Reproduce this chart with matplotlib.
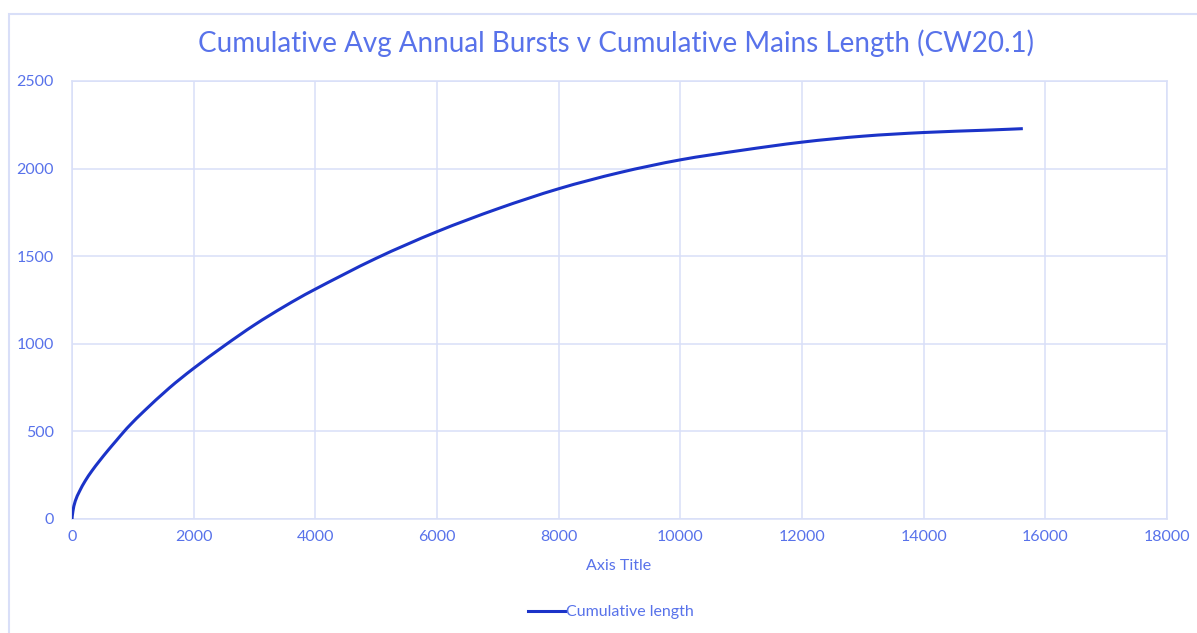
import matplotlib
matplotlib.use("Agg")
import matplotlib.pyplot as plt
from matplotlib.patches import Rectangle, PathPatch
from matplotlib.path import Path
from matplotlib.lines import Line2D

# Data
mains_length = [0, 16, 54, 126, 218, 328, 453, 590, 727, 850, 972, 1191, 1600,
                2000, 2500, 3000, 3500, 4000, 5000, 6000, 7000, 8000, 9000, 10000, 11000,
                12000, 13000, 14000, 15000, 15630]
cum_bursts = [0, 46, 103, 160, 218, 275, 332, 391, 447, 497, 543, 618, 748,
              860, 988, 1108, 1215, 1312, 1488, 1640, 1771, 1885, 1977, 2050, 2104,
              2151, 2185, 2206, 2219, 2228]
x_ticks = [0, 2000, 4000, 6000, 8000, 10000, 12000, 14000, 16000, 18000]
y_ticks = [0, 500, 1000, 1500, 2000, 2500]

title = "Cumulative Avg Annual Bursts v Cumulative Mains Length (CW20.1)"
series_name = "Cumulative length"

plt.rcParams['font.family'] = ['Lato', 'DejaVu Sans']
text_color = '#5872EA'
grid_color = '#D9DFF8'
line_color = '#1B33C8'


def smooth_path(xs, ys, tension=1 / 6):
    """Excel-style smoothed line: Catmull-Rom converted to cubic Bezier segments."""
    verts = [(xs[0], ys[0])]
    codes = [Path.MOVETO]
    n = len(xs)
    for i in range(n - 1):
        x0, y0 = (xs[i - 1], ys[i - 1]) if i > 0 else (xs[i], ys[i])
        x1, y1 = xs[i], ys[i]
        x2, y2 = xs[i + 1], ys[i + 1]
        x3, y3 = (xs[i + 2], ys[i + 2]) if i + 2 < n else (x2, y2)
        c1 = (x1 + (x2 - x0) * tension, y1 + (y2 - y0) * tension)
        c2 = (x2 - (x3 - x1) * tension, y2 - (y3 - y1) * tension)
        verts += [c1, c2, (x2, y2)]
        codes += [Path.CURVE4] * 3
    return Path(verts, codes)


fig = plt.figure(figsize=(11.97, 6.33), dpi=100)
fig.patch.set_facecolor('white')

# chart border
fig.patches.append(Rectangle((9 / 1197, -0.1), 1.2, 1 - 14 / 633 + 0.1,
                             transform=fig.transFigure, fill=False,
                             edgecolor=grid_color, linewidth=1.5, zorder=0))

ax = fig.add_axes([72 / 1197, (633 - 519) / 633, (1167 - 72) / 1197, (519 - 81) / 633])
ax.add_patch(PathPatch(smooth_path(mains_length, cum_bursts), facecolor='none',
                       edgecolor=line_color, linewidth=2.2, capstyle='butt', zorder=3))
ax.set_xlim(0, 18000)
ax.set_ylim(0, 2500)
ax.set_xticks(x_ticks)
ax.set_yticks(y_ticks)
ax.grid(True, color=grid_color, linewidth=1.1)
ax.set_axisbelow(True)
for s in ax.spines.values():
    s.set_color(grid_color)
    s.set_linewidth(1.1)
ax.tick_params(length=0, colors=text_color, labelsize=11.5)
ax.tick_params(axis='x', pad=8)
ax.tick_params(axis='y', pad=13)

fig.text(616 / 1197, 1 - 43 / 633, title, ha='center', va='center',
         fontsize=20, color=text_color)
fig.text(619 / 1197, 1 - 566 / 633, "Axis Title", ha='center', va='center',
         fontsize=11.5, color=text_color)

handle = Line2D([], [], color=line_color, linewidth=2.2)
fig.legend([handle], [series_name], loc='center', bbox_to_anchor=(611 / 1197, 1 - 612 / 633),
           frameon=False, fontsize=11.5, labelcolor=text_color,
           handlelength=2.3, handletextpad=0.1)

fig.savefig("out.png", dpi=100, facecolor='white')
